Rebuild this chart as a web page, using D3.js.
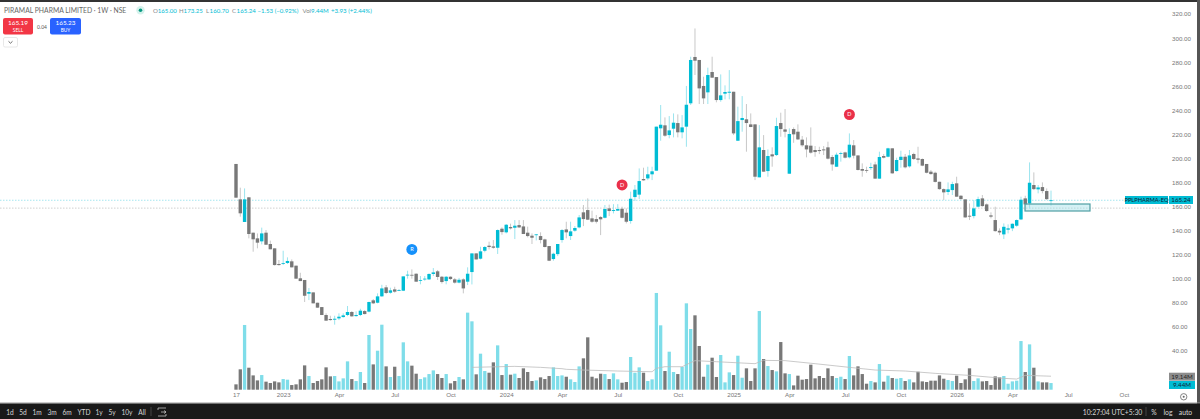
<!DOCTYPE html>
<html>
<head>
<meta charset="utf-8">
<script src="https://cdn.jsdelivr.net/npm/d3@7"></script>
<style>
  html, body { margin: 0; padding: 0; background: #fff; }
  svg { display: block; font-family: Lato, Roboto, sans-serif; }
  .axis path, .axis line { display: none; }
</style>
</head>
<body>
<svg id="chart" width="1200" height="419"></svg>
<script>
// weekly candles, oldest first, ten per row
const open = [
195.4,166,147.2,167.7,138.3,133.6,131.1,138.3,128.9,125.3,
112.3,112.5,113.1,114.5,110.9,100.4,99,87.6,88.7,80.1,
76.5,69.9,66.6,66,67.1,68.2,69.9,72.4,69,69.9,
73.2,72.7,82.1,80.1,85.4,92.9,88.4,91.2,90.1,90.1,
102.9,103.3,104.2,98.4,99.5,99.5,104,106.2,101.7,98.1,
101.7,99.5,96.8,99.5,97.6,105.6,121.1,116.7,123.3,127.5,
126.9,125.8,141.6,138.6,143,142.4,144.6,143.5,138.3,135.8,
136.4,135.5,132.7,127.2,116.4,120.5,132.2,141,135.5,140,
142.7,155.2,157.1,150.2,149.6,151.3,150.7,158.5,156.3,156.6,
158.2,154.9,148,167.9,169.9,182.9,183.4,186.8,189.8,225,
227.5,219.4,224.7,229.4,221.7,226.4,245.8,284.3,281.8,260.2,
254.9,271.8,267.6,248.5,253.8,254.6,255.4,214.7,231.9,232.5,
228.3,228.3,184.3,207,189.5,203.4,202.8,229.4,224.1,187.3,
224.4,222.2,215.6,210.9,210.6,207,207,207.5,209.2,201.2,
193.1,204,205,200.9,210.9,202.5,191.2,190.4,192,195,
183.2,202,201.4,208.4,189.5,198.7,201.4,193.4,203.7,200,
199.5,195.4,189,188.1,180.6,174.5,172.1,173.7,179.3,169,
166,152.4,152.1,159.9,166.8,161.8,152.7,148.8,139.9,136.9,
140.8,141.9,144.1,149.3,166.8,162.6,177.9,174.3,176.2,172.9,165];
const high = [
195.4,175.7,175.1,167.7,138.3,137.7,142.5,140.5,131.7,125.3,
115.6,123.3,117.8,116.1,110.9,105,99,92.3,88.7,80.1,
76.5,71.3,69.3,69.3,71.3,71.3,77.4,73.2,72.9,75.1,
74,81,83.2,87.9,95,94.8,92.6,93.4,91.5,102,
106.7,107.8,104.5,102.3,102.3,104.5,108.9,107.3,102.3,102.3,
102,100.7,100.7,100.4,109.5,121.1,121.1,126.6,127.2,130.8,
132.2,141,142.7,145.5,145.8,148.8,148.8,148.8,143.3,137.7,
137.2,138.6,133.3,127.2,121.7,128.9,141.3,147.4,147.4,143.8,
153,161.3,166.8,156.6,153,152.1,161.3,161.6,162,162,
159.9,158.5,172.4,177.9,191.7,192.3,193.1,193.1,226.4,244.4,
234.1,235.2,237.4,236.6,236,260.2,284.5,308,281.8,267.9,
275.4,284.5,267.6,269.8,260.7,273.4,255.4,243,251.8,245.2,
237.4,228.3,227.7,219.4,207.5,209.2,233.8,238,241,225,
225.8,228.3,218.6,217.5,225.8,210.3,209.7,210.3,213.9,202.8,
204.8,205.6,205.6,220.8,215.3,202.5,195.9,193.1,196.4,197.3,
205.6,203.7,208.9,208.4,200.6,206.4,203.7,207,204.8,209.7,
200,195.4,190.4,189,180.6,175.1,180.1,180.6,184.8,169.5,
166,162.6,165.4,168.2,169.6,162.6,155.2,159.9,141.9,146,
145.2,146,149.3,168.2,169,196.7,188.4,177.9,180.1,175.1,173.25];
const low = [
167.4,151.6,147.2,133.6,122.5,125.3,128.6,128.3,124.5,111,
110.9,111.4,112.3,109.5,100.1,98.1,80.7,82.3,79.6,76,
69.9,65.2,65.2,61.9,65.7,67.7,69,68.5,68.5,69,
70.4,72.1,79,79.6,85.1,87.3,87.6,88.4,89.8,89.8,
100.1,100.1,97.6,95.4,98.4,99,102.3,99,96,95.4,
99,96,96.2,87.9,94.8,95.3,116,116.1,122,124.4,
125,120.6,136.6,137.7,141,133,142.2,137.2,134.4,128.9,
131.9,129.4,126.1,114.7,115,118.9,130,133.6,132.2,139.1,
141.9,143.8,148.8,146.6,146,136.3,150.2,152.1,154.3,156.3,
150.2,146,145.8,164.6,166.3,181.5,182,182,189.8,214.7,
218,216.7,217.5,217.5,216.7,209.7,244.4,269.3,245.2,245.2,
245.2,267,246.6,247.1,249.1,249.1,219.4,214.7,222.2,205.6,
226,182,184.3,188.9,184.8,193.1,202,218,217.5,187.3,
213,215.3,209.7,200.9,204,201.4,203.6,202.8,199.2,189.8,
193,197.3,200,200,200,190,184.8,188,190.4,183.2,
183.2,200,200.9,187.3,189,192.3,191.7,192.3,198.7,195.9,
193.5,187.6,186.5,180,174,165.4,169.6,169.6,168.2,165.9,
150.7,148.8,150.2,159.3,159.9,155.7,150.2,139.1,136.3,133,
137.7,139.6,143.2,148.8,157.1,158.5,173.7,171,171,165.4,160.7];
const close = [
167.4,154.4,166,137.2,132.8,130,137.7,128.3,124.5,111.4,
111.4,113.1,114.8,109.5,100.1,98.1,85.9,89,79.6,76,
69.9,65.2,65.7,66.8,68.5,69.6,72.4,68.8,69.9,73.5,
70.7,80.7,79.6,85.4,92,88.2,90.4,89.3,90.6,102,
103.4,103.1,97.6,99,100.1,104,105.3,101.5,97.3,101.7,
99.8,96.8,99.2,92,104.2,121.1,116.1,122.8,126.4,126.4,
125.8,140.5,138.8,144.9,141.9,144.1,142.7,137.2,135.5,134.1,
136.9,132.2,126.4,115,120.8,128.9,140.5,138.6,139.4,142.2,
151,149.6,149.1,147.4,147.4,149.4,158,156.3,157.1,158,
150.7,147.4,166.5,174,181.2,181.8,186.8,189.3,226.4,228,
218.9,223.3,229.7,221.7,225.8,244.6,281.8,281.2,258.2,249.9,
269.3,267.1,248.5,252.4,255.2,255.4,220.8,231,233.6,229.4,
226.1,184.8,209.2,189,202,201.7,226.9,224.4,222.2,220.3,
220,215.8,210.9,207.5,204.8,205.3,206.1,206.7,199.8,195,
203.1,204.5,200.6,211.4,202.3,190.4,189.8,189.8,192.8,183.2,
201.2,200.6,208.4,187.6,198.7,201.4,192.6,202.5,199.5,198.9,
194,188.1,187,180.5,174.5,171.8,174.3,178.7,168.2,166.2,
151,151.6,158.5,166.2,160.4,156.3,151.6,139.6,138.5,143.2,
141.9,145.7,148.8,165.7,161.8,179.8,174.5,175.9,172.9,166.2,165.24];
// volume in millions, same order
const volume = [
7.6,28.9,91.8,31.2,20.3,13.2,20.8,11.4,9.5,11.8,
10.4,15.1,14.2,6.6,7.6,14.7,34.5,19.4,9.5,12.3,
14.7,31.7,18.9,19.4,11.8,16.1,40.2,15.1,12.3,25.1,
9.5,77.6,35.9,55.3,92.2,33.1,18,32.6,19.4,67.2,
40.2,34.1,22.7,15.1,17.5,22.2,27.4,22.2,16.6,22.2,
9,12.3,18,14.7,109.3,97,21.8,51.1,26.5,24.1,
38.8,62.9,20.8,36.4,21.3,22.7,16.6,30.3,25.1,12.3,
13.2,17.5,15.1,19.4,31.7,19.4,20.3,18.4,14.7,10.9,
33.1,44.5,74.3,18.4,16.1,22.7,22.2,15.1,23.2,14.7,
9.9,10.9,46.4,24.1,31.7,24.1,12.3,14.7,137.2,91.3,
26.5,53.9,25.1,22.2,32.2,122.5,86.1,105.5,62,18.4,
35.5,45.4,18,49.2,10.4,24.6,20.8,48.2,17,30.3,
12.3,30.3,111.6,43.5,33.6,27.9,26,67.6,23.2,22.2,
6.1,19.9,14.2,15.1,35.5,16.1,19.4,16.6,30.3,19.4,
16.6,18.4,15.1,47.8,20.3,33.1,22.2,8.5,12.3,10.4,
36.4,11.4,19.9,16.6,15.6,16.6,12.3,14.7,10.4,25.5,
11.8,10.9,12.8,12.8,20.3,15.6,13.7,12.3,19.9,9.5,
14.7,30.3,12.3,16.1,11.8,12.3,6.6,18.9,17.5,19.4,
8.5,11.8,12.8,69,25.1,64.3,31.2,11.8,10.4,10.4,9.44];
// volume average line, read at a few candles only
const maWeek = [56,66,72,77,78,82,90,98,99,101,105,108,113,122,124,129,136,144,150,157,164,172,180,183,185,191];
const maValue = [31.7,33.1,31.7,29.8,28.9,27.9,26.5,25.5,30.3,32.6,32.6,41.2,39.7,36.9,41.6,41.2,36.9,31.7,27.9,26.5,23.2,20.3,16.1,15.1,20.3,19.14];

const priceTicks = [320,300,280,260,240,220,200,180,160,140,120,100,80,60,40];
const timeWeeks = [1,12,25,38,51,64,77,90,104,117,130,143,156,169,182,195,208];
const timeLabels = ["17","2023","Apr","Jul","Oct","2024","Apr","Jul","Oct","2025","Apr","Jul","Oct","2026","Apr","Jul","Oct"];
const ranges = ["1d","5d","1m","3m","6m","YTD","1y","5y","10y","All"];
const rangeX = [10,23,37,52,67,84,99,112,127,142];
const badgeWeek = [42,91,144];
const badgePrice = [124.4,178,236.5];
const badgeText = ["R","D","D"];
const badgeColor = ["#1591fb","#ea3049","#ea3049"];

const UP = "#00bcd4", DOWN = "#787878", UP_WICK = "#8fe1ec", DOWN_WICK = "#c2c2c2";
const svg = d3.select("#chart");

const x = d3.scaleLinear().domain([1, 191]).range([236, 1051]);
const y = d3.scaleLinear().domain([40, 320]).range([351, 14]);
const yVol = d3.scaleLinear().domain([0, 140]).range([389.7, 291]);
const isUp = i => close[i] >= open[i];

/* last price and previous level lines */
svg.append("line").attr("x1", 0).attr("x2", 1125).attr("y1", y(165.24)).attr("y2", y(165.24))
  .attr("stroke", "#8fe1ec").attr("stroke-width", 0.8).attr("stroke-dasharray", "1.5 1.5");
svg.append("line").attr("x1", 0).attr("x2", 1169).attr("y1", y(158.7)).attr("y2", y(158.7))
  .attr("stroke", "#c4c4c4").attr("stroke-width", 0.8).attr("stroke-dasharray", "1.5 1.5");

/* volume bars */
svg.append("g").selectAll("rect").data(volume).join("rect")
  .attr("x", (d, i) => x(i + 1) - 1.65).attr("width", 3.3)
  .attr("y", d => yVol(d)).attr("height", d => yVol(0) - yVol(d))
  .attr("fill", (d, i) => isUp(i) ? "#7fdde9" : DOWN);

svg.append("path").datum(maWeek)
  .attr("fill", "none").attr("stroke", "#bdbdbd").attr("stroke-width", 0.8)
  .attr("d", d3.line().x(d => x(d)).y((d, i) => yVol(maValue[i])));

/* candles */
svg.append("g").selectAll("line").data(open).join("line")
  .attr("x1", (d, i) => x(i + 1)).attr("x2", (d, i) => x(i + 1))
  .attr("y1", (d, i) => y(high[i])).attr("y2", (d, i) => y(low[i]))
  .attr("stroke", (d, i) => isUp(i) ? UP_WICK : DOWN_WICK).attr("stroke-width", 0.9);
svg.append("g").selectAll("rect").data(open).join("rect")
  .attr("x", (d, i) => x(i + 1) - 1.7).attr("width", 3.4)
  .attr("y", (d, i) => y(Math.max(d, close[i])))
  .attr("height", (d, i) => Math.max(0.8, Math.abs(y(d) - y(close[i]))))
  .attr("fill", (d, i) => isUp(i) ? UP : DOWN);

/* demand zone */
svg.append("rect").attr("x", 1025).attr("y", 204).attr("width", 65).attr("height", 7)
  .attr("fill", "#9fdfe8").attr("fill-opacity", 0.45)
  .attr("stroke", "#4f9fa3").attr("stroke-width", 1.2);

/* idea badges */
const badge = svg.append("g").selectAll("g").data(badgeText).join("g")
  .attr("transform", (d, i) => `translate(${x(badgeWeek[i])},${y(badgePrice[i])})`);
badge.append("circle").attr("r", 5.5).attr("fill", (d, i) => badgeColor[i]);
badge.append("text").attr("text-anchor", "middle").attr("y", 2).attr("font-size", 5.5)
  .attr("fill", "#fff").text(d => d);

/* axes */
svg.append("g").attr("class", "axis").attr("transform", "translate(1172,0)")
  .call(d3.axisRight(y).tickValues(priceTicks).tickSize(0).tickPadding(0).tickFormat(d3.format(".2f")))
  .call(g => g.selectAll("text").attr("fill", "#777").attr("font-size", 6.2));
svg.append("g").attr("class", "axis").attr("transform", "translate(0,393)")
  .call(d3.axisBottom(x).tickValues(timeWeeks).tickSize(0).tickPadding(0)
    .tickFormat((d, i) => timeLabels[i]))
  .call(g => g.selectAll("text").attr("fill", "#777").attr("font-size", 6.2));

/* price labels on the scale */
function tag(xx, yy, w, h, fill, txt, color, size) {
  svg.append("rect").attr("x", xx).attr("y", yy).attr("width", w).attr("height", h).attr("fill", fill);
  svg.append("text").attr("x", xx + w / 2).attr("y", yy + h / 2 + 2.1).attr("text-anchor", "middle")
    .attr("font-size", size || 6.2).attr("fill", color).text(txt);
}
tag(1125, 196, 43, 8, UP, "PPLPHARMA-EQ", "#123", 5.7);
tag(1169, 196, 24, 8, UP, "165.24", "#123");
tag(1169, 372.7, 26, 8, "#8c8c8c", "19.14M", "#222");
tag(1169, 381, 26, 8, UP, "9.44M", "#123");

/* chart header */
svg.append("text").attr("x", 4).attr("y", 13).attr("font-size", 6.8).attr("fill", "#666")
  .text("PIRAMAL PHARMA LIMITED · 1W · NSE");
svg.append("circle").attr("cx", 140.5).attr("cy", 10.3).attr("r", 4.2).attr("fill", "#d5f2ec");
svg.append("circle").attr("cx", 140.5).attr("cy", 10.3).attr("r", 1.8).attr("fill", "#089981");
[["O", 153, "#888"], ["165.00", 157.8, UP], ["H", 179, "#888"], ["173.25", 183.6, UP], ["L", 206, "#888"], ["160.70", 209.6, UP],
 ["C", 232, "#888"], ["165.24", 236.6, UP], ["−1.53 (−0.92%)", 257.5, UP], ["Vol", 302.5, "#888"], ["9.44M", 311, UP], ["+3.93 (+2.44%)", 331, UP]]
  .forEach(d => svg.append("text").attr("x", d[1]).attr("y", 13).attr("font-size", 6.1).attr("fill", d[2]).text(d[0]));

function tradeButton(xx, w, fill, price, side) {
  svg.append("rect").attr("x", xx).attr("y", 18).attr("width", w).attr("height", 16.5).attr("rx", 2).attr("fill", fill);
  svg.append("text").attr("x", xx + w / 2).attr("y", 25).attr("text-anchor", "middle").attr("font-size", 6.4).attr("fill", "#fff").text(price);
  svg.append("text").attr("x", xx + w / 2).attr("y", 32).attr("text-anchor", "middle").attr("font-size", 4.8).attr("fill", "#fff").text(side);
}
tradeButton(3, 30, "#f23645", "165.19", "SELL");
tradeButton(50, 31, "#2962ff", "165.23", "BUY");
svg.append("text").attr("x", 42).attr("y", 28.5).attr("text-anchor", "middle").attr("font-size", 5).attr("fill", "#555").text("0.04");
svg.append("rect").attr("x", 3.5).attr("y", 37.5).attr("width", 14).attr("height", 9.5).attr("rx", 1.5)
  .attr("fill", "#fff").attr("stroke", "#e2e2e2").attr("stroke-width", 0.8);
svg.append("path").attr("d", "M8.5,41.3 L10.5,43.2 L12.5,41.3").attr("fill", "none").attr("stroke", "#444").attr("stroke-width", 0.8);

/* settings wheel under the price scale */
svg.append("circle").attr("cx", 1183.7).attr("cy", 396.8).attr("r", 3.2).attr("fill", "none").attr("stroke", "#666").attr("stroke-width", 0.8);
svg.append("circle").attr("cx", 1183.7).attr("cy", 396.8).attr("r", 1).attr("fill", "#666");

/* window frame and bottom bar */
svg.append("rect").attr("x", 0).attr("y", 0).attr("width", 1200).attr("height", 2).attr("fill", "#333");
svg.append("rect").attr("x", 1197).attr("y", 0).attr("width", 3).attr("height", 419).attr("fill", "#555");
svg.append("rect").attr("x", 0).attr("y", 402.5).attr("width", 1200).attr("height", 1).attr("fill", "#999");
svg.append("rect").attr("x", 0).attr("y", 403.5).attr("width", 1200).attr("height", 15.5).attr("fill", "#191919");
const BAR_TEXT = "#d6d6d6";
svg.append("g").selectAll("text").data(ranges).join("text")
  .attr("x", (d, i) => rangeX[i]).attr("y", 414.5).attr("text-anchor", "middle")
  .attr("font-size", 6.6).attr("fill", BAR_TEXT).text(d => d);
svg.append("line").attr("x1", 151).attr("x2", 151).attr("y1", 407).attr("y2", 416).attr("stroke", "#444");
svg.append("path").attr("d", "M158,408 H166 M158,416 H166 M158,408 V410 M166,414 V416 M161,412 H166 L164,410.5 M166,412 L164,413.5")
  .attr("fill", "none").attr("stroke", BAR_TEXT).attr("stroke-width", 0.7);
svg.append("line").attr("x1", 1146).attr("x2", 1146).attr("y1", 407).attr("y2", 416).attr("stroke", "#444");
[["10:27:04 UTC+5:30", 1112.5], ["%", 1154], ["log", 1168], ["auto", 1185.5]].forEach(d =>
  svg.append("text").attr("x", d[1]).attr("y", 414.5).attr("text-anchor", "middle").attr("font-size", 6.8).attr("fill", BAR_TEXT).text(d[0]));
</script>
</body>
</html>
